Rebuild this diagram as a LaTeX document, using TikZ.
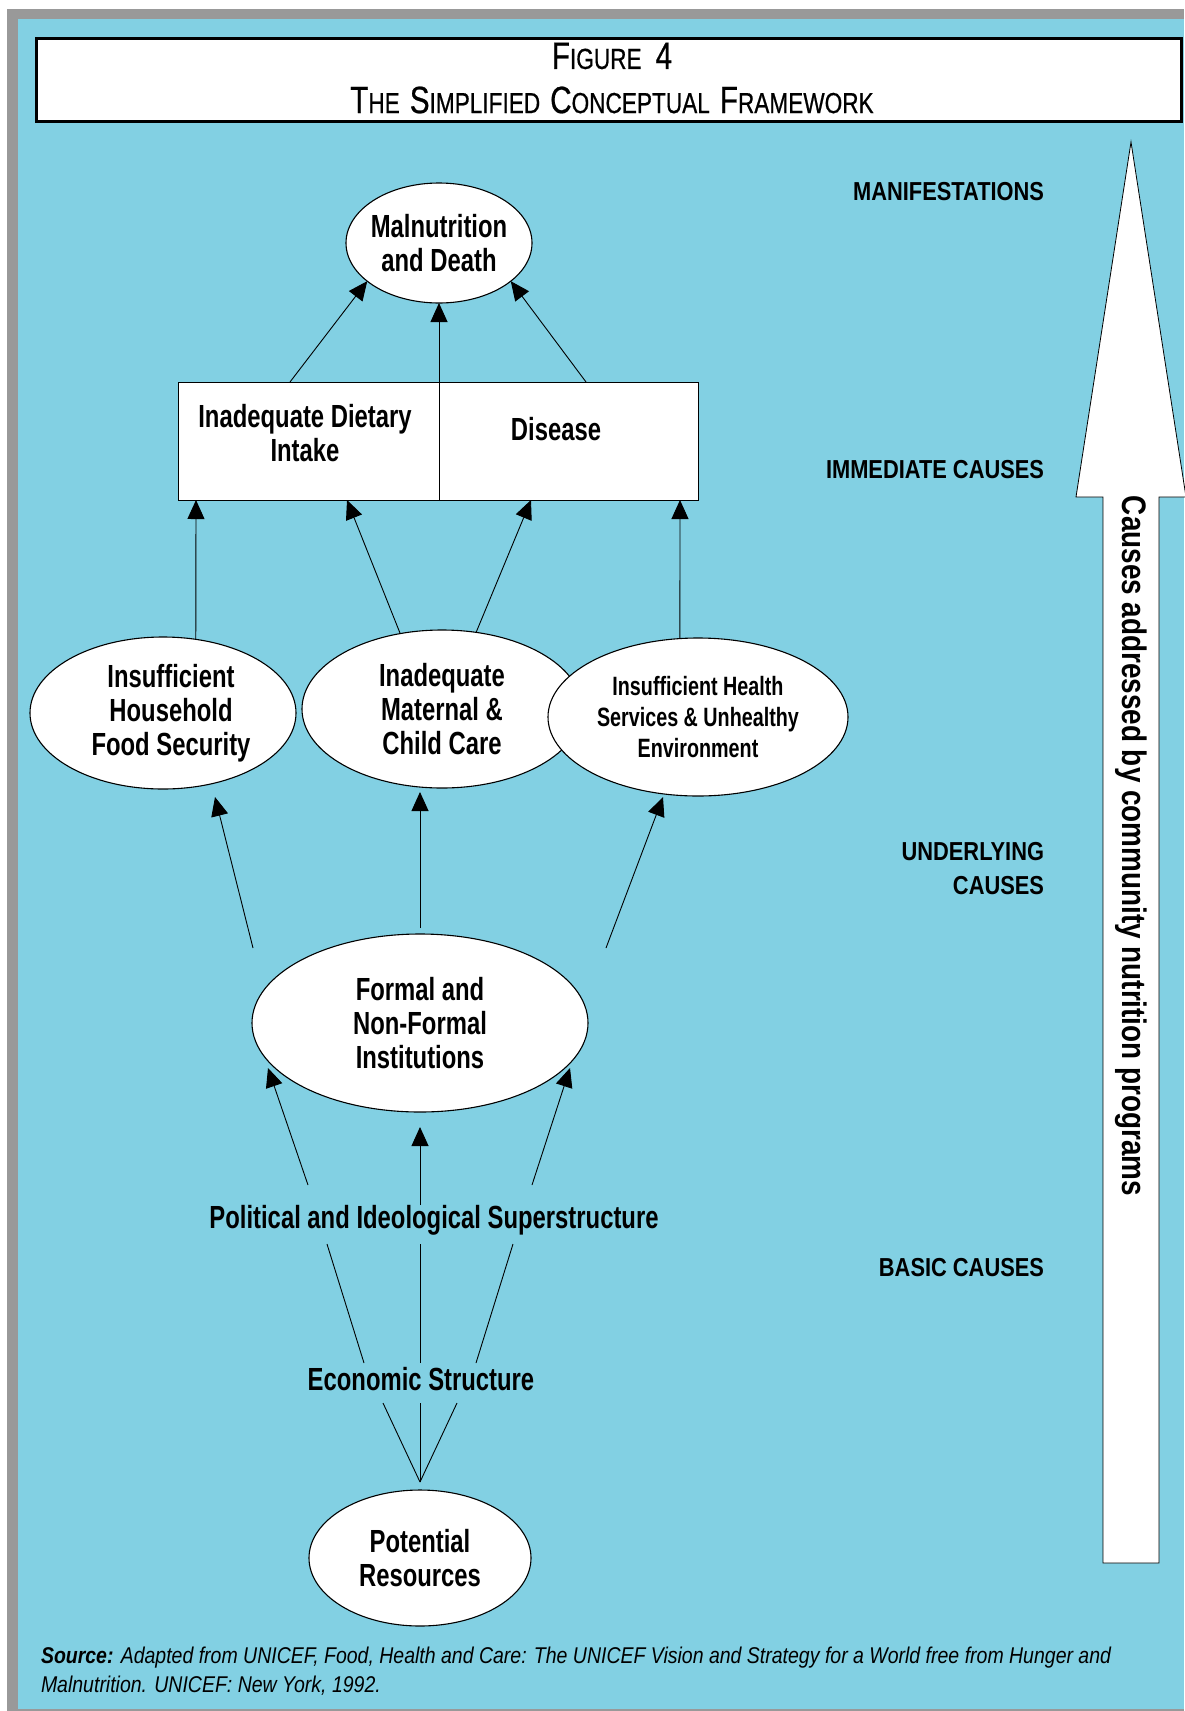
\documentclass[tikz,border=0pt]{standalone}
\usepackage{fontspec}
\setmainfont{Liberation Sans}
\newfontfamily\nodesans{Liberation Sans}[FakeStretch=0.745]
\newfontfamily\levelsans{Liberation Sans}[FakeStretch=0.84]
\newfontfamily\sidesans{Liberation Sans}[FakeStretch=0.82]
\newfontfamily\titlesans{Liberation Sans}[FakeStretch=0.78,FakeBold=0.6]
\newfontfamily\notesans{Liberation Sans}[FakeStretch=0.855]
\usetikzlibrary{arrows.meta,shapes.geometric}
\definecolor{panelcyan}{RGB}{130,208,227}
\definecolor{framegray}{RGB}{153,153,153}
\newcommand\tbig[1]{{\fontsize{38}{44}\selectfont #1}}
\newcommand\tsml[1]{{\fontsize{29}{44}\selectfont #1}}

\begin{document}
\begin{tikzpicture}[x=1pt,y=-1pt,
  every node/.style={inner sep=0pt, outer sep=0pt},
  bubble/.style={ellipse, draw=black, line width=1.1pt, fill=white, inner sep=-8pt,
    align=center, font=\nodesans\bfseries\fontsize{32}{34}\selectfont},
  causebox/.style={rectangle, draw=black, line width=1pt, fill=white, minimum height=118pt},
  boxtext/.style={align=center, font=\nodesans\bfseries\fontsize{32}{34}\selectfont},
  leveltext/.style={anchor=east, align=right, font=\levelsans\bfseries\fontsize{26}{34}\selectfont},
  arr/.style={line width=0.9pt, -{Triangle[length=19pt,width=17pt]}},
  link/.style={line width=0.9pt}
]
\useasboundingbox (0,0) rectangle (1184,1711);

% frame and panel
\fill[framegray] (7,9) rectangle (1184,1711);
\fill[panelcyan] (18,19) rectangle (1184,1709);

% title
\node (titlebox) [draw=black, line width=3pt, fill=white, minimum width=1145pt, minimum height=83pt] at (608.5,79.5) {};
\node (titleA) at (612,56) {\titlesans\tbig{F}\tsml{IGURE}\hspace{14pt}\tbig{4}};
\node (titleB) at (612,100) {\titlesans\tbig{T}\tsml{HE}\hspace{10pt}\tbig{S}\tsml{IMPLIFIED}\hspace{10pt}\tbig{C}\tsml{ONCEPTUAL}\hspace{10pt}\tbig{F}\tsml{RAMEWORK}};

% upward arrow at the right
\draw[fill=white, line width=0.8pt] (1103,1563) -- (1103,497) -- (1076,497) -- (1131,142)
  -- (1186,497) -- (1159,497) -- (1159,1563) -- cycle;
\node (sidetext) [rotate=-90, font=\sidesans\bfseries\fontsize{34}{40}\selectfont] at (1131,846)
  {Causes addressed by community nutrition programs};

% level labels
\node (lvlA) [leveltext] at (1044,192) {MANIFESTATIONS};
\node (lvlB) [leveltext] at (1044,470) {IMMEDIATE CAUSES};
\node (lvlC) [leveltext] at (1044,869) {UNDERLYING\\CAUSES};
\node (lvlD) [leveltext] at (1044,1268) {BASIC CAUSES};

% nodes
\node (mal) [bubble, minimum width=186pt, minimum height=120pt] at (439,243) {Malnutrition\\and Death};

\node (diet) [causebox, minimum width=261pt] at (308.5,441) {};
\node (disease) [causebox, minimum width=259pt] at (568.5,441) {};
\node (dietlbl) [boxtext] at (305,433) {Inadequate Dietary\\Intake};
\node (diseaselbl) [boxtext] at (556,429) {Disease};

\node (care) [bubble, minimum width=280pt, minimum height=158pt] at (442,709) {Inadequate\\Maternal \&\\Child Care};
\node (food) [bubble, minimum width=266pt, minimum height=152pt] at (163,713)
  {\hspace*{16pt}Insufficient\\\hspace*{16pt}Household\\\hspace*{16pt}Food Security};
\node (health) [bubble, minimum width=300pt, minimum height=158pt,
  font=\nodesans\bfseries\fontsize{26.5}{31}\selectfont] at (698,717) {Insufficient Health\\Services \& Unhealthy\\Environment};

\node (inst) [bubble, minimum width=336pt, minimum height=178pt] at (420,1023) {Formal and\\Non-Formal\\Institutions};

\node (pol) [boxtext] at (434,1220) {Political and Ideological Superstructure};
\node (econ) [boxtext] at (421,1379) {Economic Structure};

\node (pot) [bubble, minimum width=222pt, minimum height=136pt] at (420,1558) {Potential\\Resources};

% immediate causes -> manifestations
\draw[arr] (diet.north -| 290,0) -- (mal.208);
\draw[arr] (diet.north east) -- (mal.south);
\draw[arr] (disease.north -| 586,0) -- (mal.332);

% underlying causes -> immediate causes
\draw[arr] (food.66) -- (diet.south -| 196,0);
\draw[arr] (care.119) -- (diet.south -| 347,0);
\draw[arr] (care.66) -- (disease.south -| 531,0);
\draw[arr] (health.103) -- (disease.south -| 680,0);

% institutions -> underlying causes
\coordinate (instL) at (253,948);
\coordinate (instM) at (420,928);
\coordinate (instR) at (606,948);
\coordinate (foodB) at (215,797);
\coordinate (careB) at (420,792);
\coordinate (healthB) at (663,797);
\draw[arr] (instL) -- (foodB);
\draw[arr] (instM) -- (careB);
\draw[arr] (instR) -- (healthB);

% superstructure -> institutions
\coordinate (polL) at (308,1185);
\coordinate (polM) at (420,1205);
\coordinate (polR) at (532,1185);
\coordinate (instBL) at (268,1068);
\coordinate (instBM) at (420,1127);
\coordinate (instBR) at (570,1068);
\draw[arr] (polL) -- (instBL);
\draw[arr] (polM) -- (instBM);
\draw[arr] (polR) -- (instBR);

% economic structure -> superstructure
\coordinate (econTL) at (364,1363);
\coordinate (econTM) at (420,1363);
\coordinate (econTR) at (476,1363);
\coordinate (polBL) at (327,1244);
\coordinate (polBM) at (420,1244);
\coordinate (polBR) at (513,1244);
\draw[link] (econTL) -- (polBL);
\draw[link] (econTM) -- (polBM);
\draw[link] (econTR) -- (polBR);

% potential resources -> economic structure
\coordinate (potTop) at (420,1482);
\coordinate (econBL) at (383,1403);
\coordinate (econBM) at (420,1403);
\coordinate (econBR) at (457,1403);
\draw[link] (potTop) -- (econBL);
\draw[link] (potTop) -- (econBM);
\draw[link] (potTop) -- (econBR);

% source note
\node (source) [anchor=north west, align=left, font=\notesans\itshape\fontsize{22.8}{29}\selectfont] at (41,1647)
  {\textbf{Source:} Adapted from UNICEF, Food, Health and Care: The UNICEF Vision and Strategy for a World free from Hunger and\\
   Malnutrition. UNICEF: New York, 1992.};
\end{tikzpicture}
\end{document}
